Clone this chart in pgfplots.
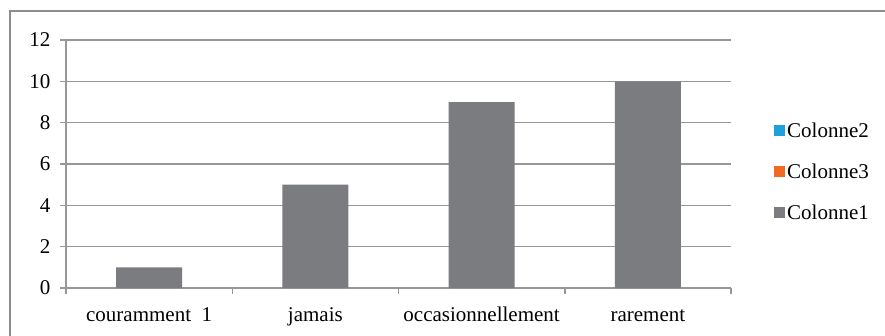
\documentclass[border=0pt]{standalone}
\usepackage{pgfplots}
\pgfplotsset{compat=1.18}
\usepackage{fontspec}
\setmainfont{Liberation Serif}
\definecolor{gridc}{HTML}{979797}
\definecolor{framec}{HTML}{8C8C8C}
\definecolor{barc}{HTML}{7B7C80}
\definecolor{blc}{HTML}{1BA1DB}
\definecolor{orc}{HTML}{F26A21}
\begin{document}
\begin{tikzpicture}[x=1bp,y=-1bp]
\useasboundingbox (0,0) rectangle (885,335);
\begin{scope}
\clip (0,0) rectangle (885,335);
\fill[white] (0,0) rectangle (885,335);
\draw[framec, line width=2bp] (10,11) rectangle (900,360);
\end{scope}
\begin{axis}[
  at={(66bp,-288bp)}, anchor=south west,
  scale only axis, width=665bp, height=248bp,
  xmin=0.5, xmax=4.5, ymin=0, ymax=12,
  ytick={0,2,...,12},
  xtick={1,2,3,4},
  xticklabels={couramment\ \ 1, jamais, occasionnellement, rarement},
  minor xtick={0.5,1.5,2.5,3.5,4.5},
  major x tick style={draw=none},
  minor tick length=6bp,
  major tick length=6bp,
  tick align=outside,
  tick style={gridc, line width=1.5bp},
  ymajorgrids,
  grid style={gridc, line width=1.5bp},
  axis lines*=left,
  axis line style={gridc, line width=1.5bp},
  ybar, bar width=66bp,
  font=\fontsize{21bp}{25bp}\selectfont,
  tick label style={font=\fontsize{21bp}{25bp}\selectfont},
  /pgf/number format/assume math mode=true,
  yticklabel style={xshift=-6bp},
  xticklabel style={anchor=base, yshift=-27bp},
  legend style={at={(1,0.5)}, anchor=west, xshift=43bp, yshift=-8bp, draw=none, fill=none,
    row sep=21bp, font=\fontsize{21bp}{25bp}\selectfont, inner sep=0pt},
  legend cell align=left,
  legend image code/.code={\fill[#1] (0bp,-5bp) rectangle (11bp,6bp);},
]
\addlegendimage{fill=blc, draw=none}
\addlegendentry{Colonne2}
\addlegendimage{fill=orc, draw=none}
\addlegendentry{Colonne3}
\addplot[fill=barc, draw=none] coordinates {(1,1) (2,5) (3,9) (4,10)};
\addlegendentry{Colonne1}
\end{axis}
\end{tikzpicture}
\end{document}
